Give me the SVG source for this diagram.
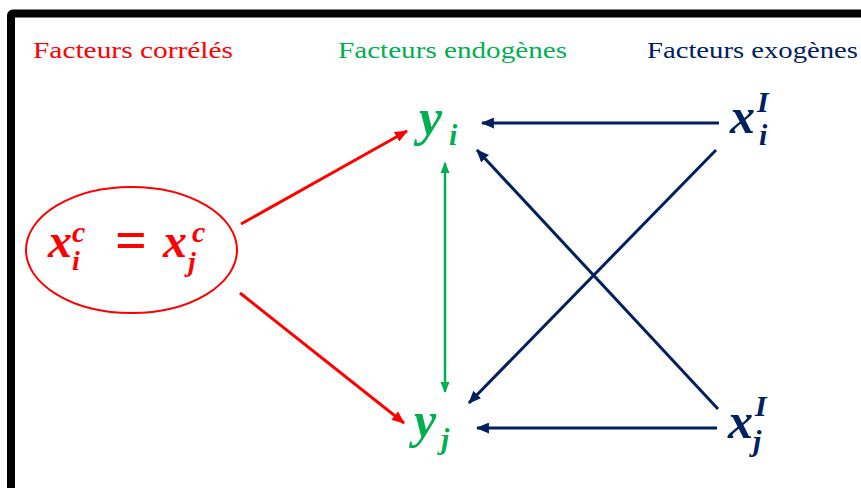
<svg xmlns="http://www.w3.org/2000/svg" width="861" height="488" viewBox="0 0 861 488">
<style>
.lbl{font-family:"Liberation Serif","Times New Roman",serif;font-size:24px}
.m{font-family:"Liberation Serif","DejaVu Serif",serif;font-weight:bold;font-style:italic}
.red{fill:#FF0000}.grn{fill:#00B050}.nav{fill:#002060}
.cr{stroke:#FF0000;stroke-width:3;fill:none}
.cg{stroke:#00B050;stroke-width:2.5;fill:none}
.cn{stroke:#002060;stroke-width:3;fill:none}
</style>
<defs>
<marker id="ar" viewBox="0 0 12 10" refX="11" refY="5" markerWidth="13" markerHeight="11" markerUnits="userSpaceOnUse" orient="auto-start-reverse"><path d="M0,0L12,5L0,10z" fill="#FF0000"/></marker>
<marker id="ag" viewBox="0 0 12 10" refX="11" refY="5" markerWidth="11" markerHeight="10" markerUnits="userSpaceOnUse" orient="auto-start-reverse"><path d="M0,0L12,5L0,10z" fill="#00B050"/></marker>
<marker id="an" viewBox="0 0 12 10" refX="11" refY="5" markerWidth="13" markerHeight="11" markerUnits="userSpaceOnUse" orient="auto-start-reverse"><path d="M0,0L12,5L0,10z" fill="#002060"/></marker>
</defs>
<rect x="0" y="0" width="861" height="488" fill="#fff"/>
<rect x="11" y="13.5" width="900" height="520" rx="2" fill="none" stroke="#000" stroke-width="8"/>

<g id="headers">
<text class="lbl red" x="33" y="58" textLength="200" lengthAdjust="spacingAndGlyphs">Facteurs corrélés</text>
<text class="lbl grn" x="338" y="58" textLength="229" lengthAdjust="spacingAndGlyphs">Facteurs endogènes</text>
<text class="lbl nav" x="647" y="58" textLength="211" lengthAdjust="spacingAndGlyphs">Facteurs exogènes</text>
</g>

<g id="connectors">
<line class="cr" x1="241" y1="224" x2="407" y2="131" marker-end="url(#ar)"/>
<line class="cr" x1="240" y1="293" x2="404" y2="423" marker-end="url(#ar)"/>
<line class="cg" x1="445" y1="163" x2="445" y2="392" marker-start="url(#ag)" marker-end="url(#ag)"/>
<line class="cn" x1="719" y1="123" x2="482" y2="123" marker-end="url(#an)"/>
<line class="cn" x1="717" y1="428" x2="477" y2="428" marker-end="url(#an)"/>
<line class="cn" x1="716" y1="150" x2="469" y2="403" marker-end="url(#an)"/>
<line class="cn" x1="718" y1="409" x2="477" y2="150" marker-end="url(#an)"/>
</g>

<g id="node-xc">
<ellipse cx="131.5" cy="250" rx="105.5" ry="63" fill="none" stroke="#FF0000" stroke-width="2"/>
<text class="m red"><tspan x="48" y="257" font-size="48">x</tspan><tspan x="72" y="242" font-size="30">c</tspan><tspan x="72" y="270" font-size="28">i</tspan><tspan x="115" y="259" font-size="56" font-style="normal">=</tspan><tspan x="163" y="257" font-size="48">x</tspan><tspan x="192" y="242" font-size="30">c</tspan><tspan x="188" y="271" font-size="28">j</tspan></text>
</g>

<g id="node-yi">
<text class="m grn"><tspan x="419" y="135" font-size="52">y</tspan><tspan x="449" y="145" font-size="30">i</tspan></text>
</g>

<g id="node-yj">
<text class="m grn"><tspan x="414" y="437" font-size="50">y</tspan><tspan x="441" y="449" font-size="30">j</tspan></text>
</g>

<g id="node-xiI">
<text class="m nav"><tspan x="730" y="133" font-size="50">x</tspan><tspan x="757" y="112" font-size="30">I</tspan><tspan x="759" y="145" font-size="30">i</tspan></text>
</g>

<g id="node-xjI">
<text class="m nav"><tspan x="728" y="438" font-size="50">x</tspan><tspan x="755" y="416" font-size="30">I</tspan><tspan x="753" y="451" font-size="30">j</tspan></text>
</g>
</svg>
